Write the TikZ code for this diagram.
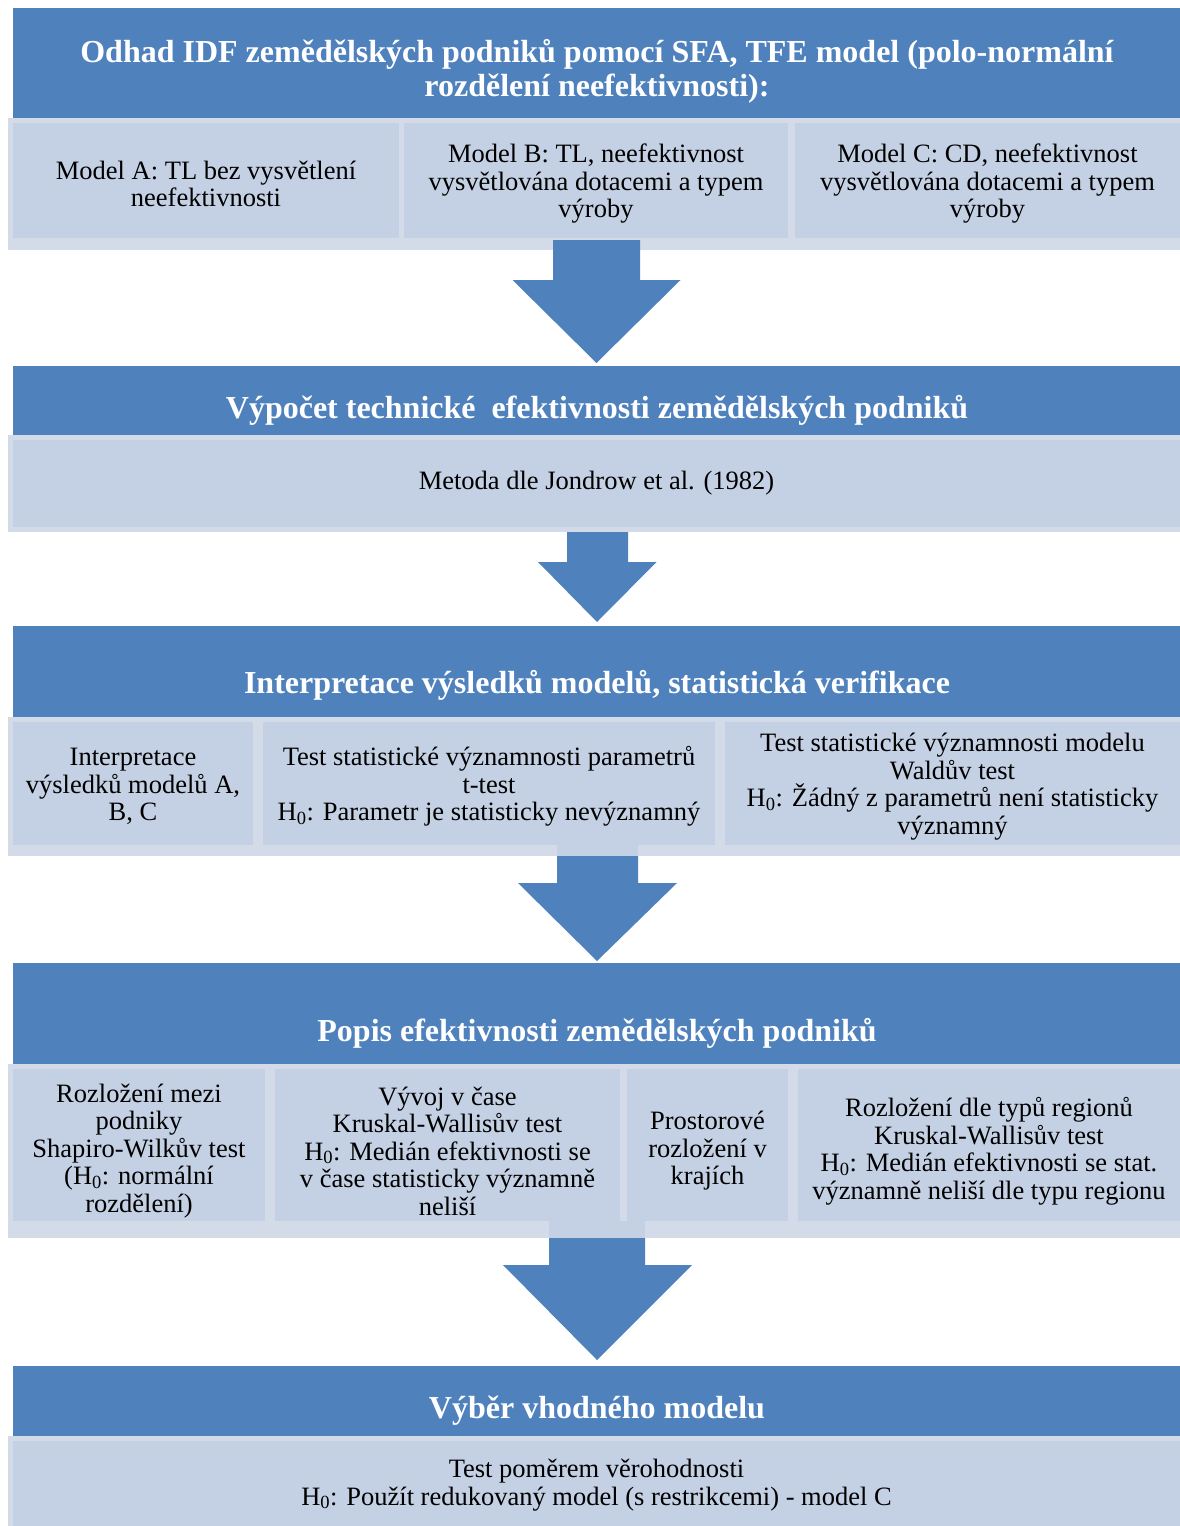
\documentclass[tikz,border=0pt]{standalone}
\usepackage{fontspec}
\setmainfont{Liberation Serif}
\definecolor{hblue}{HTML}{4F81BD}
\definecolor{lin}{HTML}{C4D0E3}
\definecolor{lout}{HTML}{D3DAE8}
\begin{document}
\begin{tikzpicture}[x=1pt,y=-1pt,
  hdr/.style={rectangle, fill=hblue, inner sep=0pt, outer sep=0pt},
  htxt/.style={text=white, font=\fontsize{32}{34}\selectfont\bfseries, align=center, anchor=base, inner sep=0pt},
  subbox/.style={rectangle, fill=lout, inner sep=0pt, outer sep=0pt, align=center,
    font=\fontsize{26.5}{27.5}\selectfont,
    path picture={\fill[lin] ([xshift=5pt,yshift=-5pt]path picture bounding box.north west) rectangle ([xshift=-5pt,yshift=#1]path picture bounding box.south east);}},
  subbox/.default=12pt,
  bigarrow/.style={fill=hblue},
  stripfix/.style={fill=lin}
]
\useasboundingbox (0,0) rectangle (1180,1526);

% ---------- block 1
\node[hdr, minimum width=1167, minimum height=110] (h1) at (596.5,63) {};
\node[htxt] (h1t) at (597,96) {Odhad IDF zemědělských podniků pomocí SFA, TFE model (polo-normální\\rozdělení neefektivnosti):};
\node[subbox=12pt, minimum width=396, minimum height=132] (a1) at (206,184) {Model A: TL bez vysvětlení\\neefektivnosti};
\node[subbox=12pt, minimum width=394, minimum height=132] (a2) at (596,184) {Model B: TL, neefektivnost\\vysvětlována dotacemi a typem\\výroby};
\node[subbox=12pt, minimum width=395, minimum height=132] (a3) at (987.5,184) {Model C: CD, neefektivnost\\vysvětlována dotacemi a typem\\výroby};

% ---------- block 2
\node[hdr, minimum width=1167, minimum height=69] (h2) at (596.5,400.5) {};
\node[htxt] (h2t) at (597,418) {Výpočet technické\ \ efektivnosti zemědělských podniků};
\node[subbox=5pt, minimum width=1177, minimum height=97] (b1) at (596.5,483.5) {Metoda dle Jondrow et al. (1982)};

% ---------- block 3
\node[hdr, minimum width=1167, minimum height=91] (h3) at (596.5,671.5) {};
\node[htxt] (h3t) at (597,693) {Interpretace výsledků modelů, statistická verifikace};
\node[subbox=11pt, minimum width=250, minimum height=139] (c1) at (133,786.5) {Interpretace\\výsledků modelů A,\\B, C};
\node[subbox=11pt, minimum width=462, minimum height=139] (c2) at (489,786.5) {Test statistické významnosti parametrů\\t-test\\H\textsubscript{0}: Parametr je statisticky nevýznamný};
\node[subbox=11pt, minimum width=465, minimum height=139] (c3) at (952.5,786.5) {Test statistické významnosti modelu\\Waldův test\\H\textsubscript{0}: Žádný z parametrů není statisticky\\významný};

% ---------- block 4
\node[hdr, minimum width=1167, minimum height=101] (h4) at (596.5,1013.5) {};
\node[htxt] (h4t) at (597,1041) {Popis efektivnosti zemědělských podniků};
\node[subbox=17pt, minimum width=262, minimum height=174] (d1) at (139,1151) {Rozložení mezi\\podniky\\Shapiro-Wilkův test\\(H\textsubscript{0}: normální\\rozdělení)};
\node[subbox=17pt, minimum width=355, minimum height=174] (d2) at (447.5,1151) {Vývoj v čase\\Kruskal-Wallisův test\\H\textsubscript{0}: Medián efektivnosti se\\v čase statisticky významně\\neliší};
\node[subbox=17pt, minimum width=171, minimum height=174] (d3) at (707.5,1151) {Prostorové\\rozložení v\\krajích};
\node[subbox=17pt, minimum width=392, minimum height=174] (d4) at (989,1151) {Rozložení dle typů regionů\\Kruskal-Wallisův test\\H\textsubscript{0}: Medián efektivnosti se stat.\\významně neliší dle typu regionu};

% ---------- block 5
\node[hdr, minimum width=1167, minimum height=70] (h5) at (596.5,1401) {};
\node[htxt] (h5t) at (597,1418) {Výběr vhodného modelu};
\node[subbox=5pt, minimum width=1177, minimum height=98] (e1) at (596.5,1485) {Test poměrem věrohodnosti\\H\textsubscript{0}: Použít redukovaný model (s restrikcemi) - model C};

% ---------- block arrows (from the box above to the header below)
\fill[bigarrow, shift={(h2.north)}] (-43.5,-126) -- (43.5,-126) -- (43.5,-86) -- (84,-86) -- (0,-3) -- (-84,-86) -- (-43.5,-86) -- cycle;
\fill[bigarrow, shift={(h3.north)}] (-29.5,-94) -- (31.5,-94) -- (31.5,-64) -- (60,-64) -- (0.5,-4) -- (-58.5,-64) -- (-29.5,-64) -- cycle;
\fill[stripfix, shift={(h4.north)}] (-39.5,-118) rectangle (41.5,-107);
\fill[bigarrow, shift={(h4.north)}] (-39.5,-107) -- (41.5,-107) -- (41.5,-80) -- (80.5,-80) -- (0.5,-2) -- (-78.5,-80) -- (-39.5,-80) -- cycle;
\fill[stripfix, shift={(h5.north)}] (-47.5,-145) rectangle (48.5,-128);
\fill[bigarrow, shift={(h5.north)}] (-47.5,-128) -- (48.5,-128) -- (48.5,-101) -- (95.5,-101) -- (0.5,-6) -- (-93.5,-101) -- (-47.5,-101) -- cycle;
\end{tikzpicture}
\end{document}
